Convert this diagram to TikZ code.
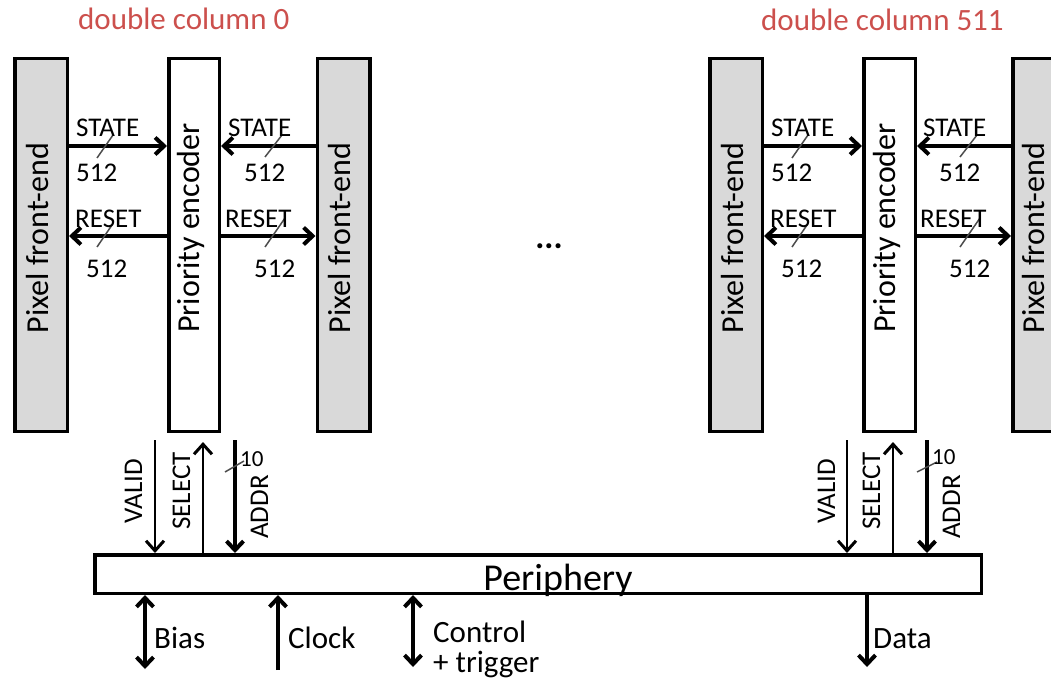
\documentclass[tikz,border=0pt]{standalone}
\usepackage{fontspec}
\setmainfont{Carlito}
\usetikzlibrary{arrows.meta}
\definecolor{pfegray}{RGB}{217,217,217}
\definecolor{titlered}{RGB}{204,80,77}
\begin{document}
\begin{tikzpicture}[x=1pt,y=-1pt,
  box/.style={draw, line width=3.5pt, rectangle, minimum width=52.5pt, minimum height=372.5pt, inner sep=0pt},
  pfe/.style={box, fill=pfegray},
  enc/.style={box, fill=white},
  bus/.style={line width=4pt, -{Straight Barb[length=9pt,width=17pt]}},
  dbus/.style={line width=4pt, {Straight Barb[length=9pt,width=17pt]}-{Straight Barb[length=9pt,width=17pt]}},
  sig/.style={line width=2pt, -{Straight Barb[length=10pt,width=18pt,line width=3pt]}},
  slash/.style={line width=1.5pt, draw=black!70},
  lbl/.style={font=\fontsize{27}{30}\selectfont, inner sep=0pt},
  boxlbl/.style={font=\fontsize{32}{36}\selectfont, inner sep=0pt, rotate=90, anchor=base},
  botlbl/.style={font=\fontsize{31}{31}\selectfont, inner sep=0pt, anchor=base west},
  title/.style={font=\fontsize{31}{36}\selectfont, text=titlered, inner sep=0pt, anchor=base west}
]
\clip (0,0) rectangle (1051,687);

% titles
\node[title] (t1) at (78,30) {double column 0};
\node[title] (t2) at (761,31) {double column 511};

% column 0 boxes
\node[pfe] (p1) at (41,245) {};
\node[enc, minimum width=50.5pt] (e1) at (194,245) {};
\node[pfe] (p2) at (343.5,245) {};
\node[boxlbl] (lp1) at (48,238) {Pixel front-end};
\node[boxlbl] (le1) at (199,228) {Priority encoder};
\node[boxlbl] (lp2) at (350,238) {Pixel front-end};

% column 511 boxes
\node[pfe] (p3) at (736,245) {};
\node[enc, minimum width=51.5pt] (e2) at (889.5,245) {};
\node[pfe] (p4) at (1039,245) {};
\node[boxlbl] (lp3) at (743,238) {Pixel front-end};
\node[boxlbl] (le2) at (895,228) {Priority encoder};
\node[boxlbl] (lp4) at (1044,238) {Pixel front-end};

\coordinate (ys) at (0,146);
\coordinate (yr) at (0,236);

% column 0 buses
\draw[bus] (p1.east |- ys) -- (e1.west |- ys);
\draw[bus] (e1.west |- yr) -- (p1.east |- yr);
\draw[bus] (p2.west |- ys) -- (e1.east |- ys);
\draw[bus] (e1.east |- yr) -- (p2.west |- yr);
\draw[slash] (97,158) -- (113,135);
\draw[slash] (97,247) -- (112,225);
\draw[slash] (265,157) -- (282,135);
\draw[slash] (265,247) -- (285,218);
\node[lbl, anchor=base west] (s1a) at (76,137) {STATE};
\node[lbl, anchor=base west] (s1b) at (76,182) {512};
\node[lbl, anchor=base west] (r1a) at (75,227) {RESET};
\node[lbl, anchor=base west] (r1b) at (86,277) {512};
\node[lbl, anchor=base west] (s2a) at (228,137) {STATE};
\node[lbl, anchor=base west] (s2b) at (244,182) {512};
\node[lbl, anchor=base west] (r2a) at (225,227) {RESET};
\node[lbl, anchor=base west] (r2b) at (254,277) {512};

% column 511 buses
\draw[bus] (p3.east |- ys) -- (e2.west |- ys);
\draw[bus] (e2.west |- yr) -- (p3.east |- yr);
\draw[bus] (p4.west |- ys) -- (e2.east |- ys);
\draw[bus] (e2.east |- yr) -- (p4.west |- yr);
\draw[slash] (792,158) -- (808,135);
\draw[slash] (792,247) -- (807,225);
\draw[slash] (960,157) -- (977,135);
\draw[slash] (960,247) -- (980,218);
\node[lbl, anchor=base west] (s3a) at (771,137) {STATE};
\node[lbl, anchor=base west] (s3b) at (771,182) {512};
\node[lbl, anchor=base west] (r3a) at (770,227) {RESET};
\node[lbl, anchor=base west] (r3b) at (781,277) {512};
\node[lbl, anchor=base west] (s4a) at (923,137) {STATE};
\node[lbl, anchor=base west] (s4b) at (939,182) {512};
\node[lbl, anchor=base west] (r4a) at (920,227) {RESET};
\node[lbl, anchor=base west] (r4b) at (949,277) {512};

% dots
\node[inner sep=0pt, anchor=base, font=\fontsize{34}{36}\selectfont\bfseries] (dots) at (549,248) {...};

% periphery
\node[draw, line width=3.5pt, minimum width=886.5pt, minimum height=38.5pt, inner sep=0pt, fill=white] (per) at (538,574) {};
\node[font=\fontsize{38}{40}\selectfont, inner sep=0pt, anchor=base] (perl) at (558,590) {Periphery};

% column 0 vertical signals
\coordinate (v1) at (155,440);
\coordinate (sl1) at (203,442);
\coordinate (a1) at (235,440);
\draw[sig] (v1) -- (v1 |- per.north);
\draw[sig] (sl1 |- per.north) -- (sl1);
\draw[bus] (a1) -- (a1 |- per.north);
\draw[slash] (225,472) -- (244,461);
\node[lbl, rotate=90, anchor=base] (lv1) at (142,491) {VALID};
\node[lbl, rotate=90, anchor=base] (ls1) at (190,491) {SELECT};
\node[lbl, rotate=90, anchor=base] (la1) at (268,507) {ADDR};
\node[lbl, anchor=base west, font=\fontsize{23}{24}\selectfont] (n1) at (240,466) {10};

% column 511 vertical signals
\coordinate (v2) at (847,440);
\coordinate (sl2) at (893,442);
\coordinate (a2) at (927,440);
\draw[sig] (v2) -- (v2 |- per.north);
\draw[sig] (sl2 |- per.north) -- (sl2);
\draw[bus] (a2) -- (a2 |- per.north);
\draw[slash] (917,472) -- (937,462);
\node[lbl, rotate=90, anchor=base] (lv2) at (835,491) {VALID};
\node[lbl, rotate=90, anchor=base] (ls2) at (880,491) {SELECT};
\node[lbl, rotate=90, anchor=base] (la2) at (960,507) {ADDR};
\node[lbl, anchor=base west, font=\fontsize{23}{24}\selectfont] (n2) at (932,464) {10};

% periphery I/O
\coordinate (bias) at (145,669);
\coordinate (clk) at (278,670);
\coordinate (ctl) at (413,667);
\coordinate (dat) at (867,667);
\draw[dbus] (bias |- per.south) -- (bias);
\draw[bus] (clk) -- (clk |- per.south);
\draw[dbus] (ctl |- per.south) -- (ctl);
\draw[bus] (dat |- per.south) -- (dat);
\node[botlbl] (lb) at (154,648) {Bias};
\node[botlbl] (lc) at (288,648) {Clock};
\node[botlbl] (lt) at (433,642) {Control};
\node[botlbl] (lt2) at (433,672) {+ trigger};
\node[botlbl] (ld) at (873,648) {Data};
\end{tikzpicture}
\end{document}
